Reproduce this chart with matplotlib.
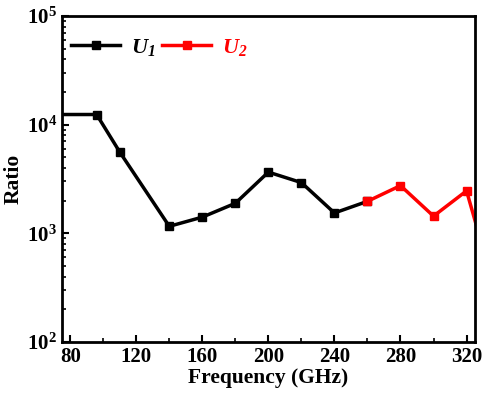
import matplotlib
matplotlib.use("Agg")
import matplotlib.pyplot as plt
from matplotlib.ticker import FixedLocator, LogLocator, NullFormatter, MultipleLocator

plt.rcParams['font.family'] = ['Liberation Serif', 'DejaVu Serif']
plt.rcParams['font.weight'] = 'bold'
plt.rcParams['mathtext.fontset'] = 'custom'
plt.rcParams['mathtext.it'] = 'Liberation Serif:italic:bold'
plt.rcParams['mathtext.bf'] = 'Liberation Serif:bold'
plt.rcParams['mathtext.rm'] = 'Liberation Serif:italic:bold'

# Data
freq_u1 = [70, 96, 110, 140, 160, 180, 200, 220, 240, 260]
ratio_u1 = [12400, 12400, 5600, 1160, 1410, 1890, 3660, 2930, 1540, 1970]
freq_u2 = [260, 280, 300, 320, 330]
ratio_u2 = [1970, 2750, 1440, 2460, 720]
xticks = [80, 120, 160, 200, 240, 280, 320]
yticks = [1e2, 1e3, 1e4, 1e5]
ytick_labels = [r'$\mathbf{10^{2}}$', r'$\mathbf{10^{3}}$', r'$\mathbf{10^{4}}$', r'$\mathbf{10^{5}}$']

fig = plt.figure(figsize=(4.84, 4.00), dpi=100)
ax = fig.add_axes([0.128, 0.145, 0.853, 0.815])

ax.plot(freq_u1, ratio_u1, color='black', lw=2.5, marker='s', ms=5.5,
        label=r'$U_{1}$')
ax.plot(freq_u2, ratio_u2, color='red', lw=2.5, marker='s', ms=5.5,
        label=r'$U_{2}$')

ax.set_yscale('log')
ax.set_xlim(75, 325)
ax.set_ylim(1e2, 1e5)

ax.xaxis.set_major_locator(FixedLocator(xticks))
ax.set_xticklabels([str(v) for v in xticks])
ax.xaxis.set_minor_locator(MultipleLocator(20))
ax.yaxis.set_major_locator(FixedLocator(yticks))
ax.set_yticklabels(ytick_labels)
ax.yaxis.set_minor_locator(LogLocator(base=10, subs=range(2, 10)))
ax.yaxis.set_minor_formatter(NullFormatter())

ax.tick_params(which='both', direction='in', top=False, right=False, labelsize=15)
ax.tick_params(which='major', length=5, width=1.5)
ax.tick_params(which='minor', length=3, width=1.2)
for s in ax.spines.values():
    s.set_linewidth(2)

ax.set_xlabel('Frequency (GHz)', fontsize=15.5, fontweight='bold', labelpad=1)
ax.set_ylabel('Ratio', fontsize=15.5, fontweight='bold', labelpad=2)

leg = ax.legend(loc='upper left', ncol=2, frameon=False, fontsize=16,
                handlelength=2.2, columnspacing=0.3, handletextpad=0.5,
                borderaxespad=0.0, borderpad=0.2, bbox_to_anchor=(0.012, 0.95))
for t, c in zip(leg.get_texts(), ['black', 'red']):
    t.set_color(c)

fig.savefig('out.png', dpi=100)
